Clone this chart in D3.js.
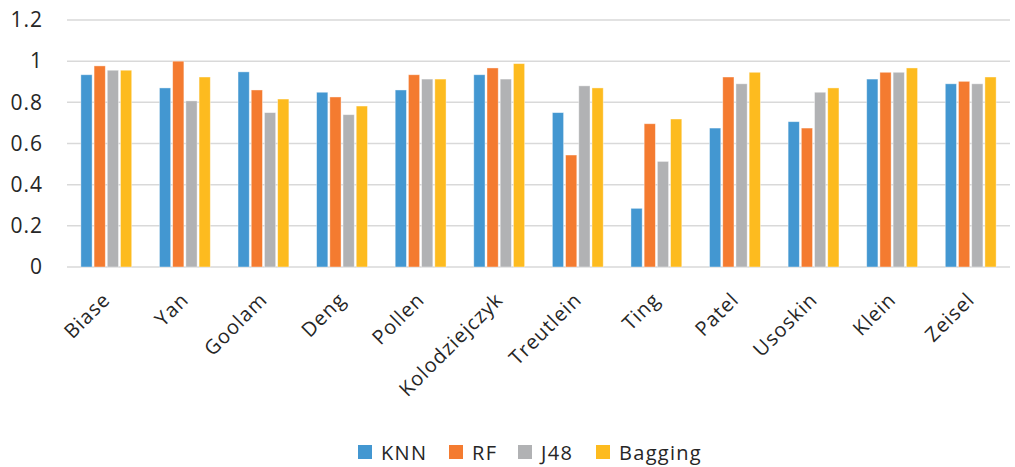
<!DOCTYPE html>
<html><head><meta charset="utf-8">
<script src="https://cdn.jsdelivr.net/npm/d3@7"></script>
<style>body{margin:0;background:#fff}svg{display:block}text{font-family:"Open Sans",sans-serif;fill:#262626}</style>
</head><body>
<script>
const categories = ["Biase","Yan","Goolam","Deng","Pollen","Kolodziejczyk","Treutlein","Ting","Patel","Usoskin","Klein","Zeisel"];
const seriesNames = ["KNN","RF","J48","Bagging"];
const knn     = [0.934,0.870,0.948,0.849,0.860,0.934,0.750,0.285,0.675,0.706,0.913,0.890];
const rf      = [0.977,1.000,0.860,0.826,0.934,0.967,0.544,0.696,0.923,0.675,0.946,0.902];
const j48     = [0.956,0.807,0.750,0.740,0.913,0.913,0.880,0.513,0.890,0.849,0.946,0.890];
const bagging = [0.956,0.923,0.816,0.782,0.913,0.988,0.870,0.719,0.946,0.870,0.967,0.923];
const yTicks = [0,0.2,0.4,0.6,0.8,1,1.2];
const colors = ["#4397d1","#f47b30","#b1b2b4","#fdbb1f"];

const W=1015,H=467;
const svg=d3.select("body").append("svg").attr("width",W).attr("height",H);
const x=d3.scaleBand().domain(categories).range([67,1010]).paddingInner(0).paddingOuter(0);
const y=d3.scaleLinear().domain([0,1.2]).range([267,20]);
const xs=d3.scaleBand().domain(seriesNames).range([0,x.bandwidth()]).paddingInner(0.15).paddingOuter(1.05);

// gridlines
svg.append("g").selectAll("line").data(yTicks).join("line")
  .attr("x1",67).attr("x2",1010).attr("y1",d=>y(d)).attr("y2",d=>y(d))
  .attr("stroke","#d9d9d9").attr("stroke-width",1.5);

// y axis labels
const yAxis=d3.axisLeft(y).tickValues(yTicks).tickSize(0).tickPadding(0).tickFormat(d=>String(d));
const gy=svg.append("g").attr("transform","translate(43,0)").call(yAxis);
gy.select(".domain").remove();
gy.selectAll("text").attr("font-size",21).attr("fill","#262626").attr("letter-spacing",1)
  .style("font-family","'Open Sans',sans-serif");

const data=[knn,rf,j48,bagging];
seriesNames.forEach((s,si)=>{
  svg.append("g").selectAll("rect").data(categories).join("rect")
    .attr("x",(c)=>x(c)+xs(s))
    .attr("width",xs.bandwidth())
    .attr("y",(c,i)=>y(data[si][i]))
    .attr("height",(c,i)=>y(0)-y(data[si][i]))
    .attr("fill",colors[si])
    .attr("stroke","#ffffff").attr("stroke-opacity",0.5).attr("stroke-width",0.8);
});

// x axis labels
const xAxis=d3.axisBottom(x).tickSize(0).tickPadding(0);
const gx=svg.append("g").attr("transform","translate(0,267)").call(xAxis);
gx.select(".domain").remove();
gx.selectAll("text")
  .attr("font-size",20).attr("fill","#262626").attr("letter-spacing",1)
  .style("font-family","'Open Sans',sans-serif")
  .attr("text-anchor","end").attr("dy",null).attr("y",0)
  .attr("transform","translate(5,34) rotate(-45)");

// legend
const legendX=[358,449,518,596];
const lg=svg.append("g");
seriesNames.forEach((s,i)=>{
  lg.append("rect").attr("x",legendX[i]).attr("y",445).attr("width",14).attr("height",14).attr("fill",colors[i]);
  lg.append("text").attr("x",legendX[i]+23).attr("y",460).attr("font-size",20).attr("letter-spacing",1.3).text(s);
});
</script>
</body></html>
